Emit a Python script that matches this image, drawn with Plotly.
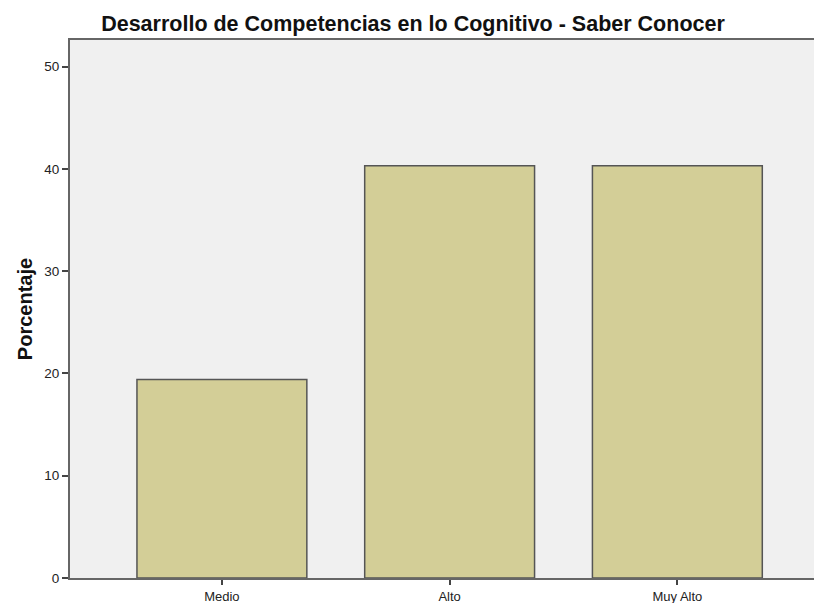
import plotly.graph_objects as go

categories = ["Medio", "Alto", "Muy Alto"]
porcentaje = [19.4, 40.3, 40.3]
y_ticks = [0, 10, 20, 30, 40, 50]

fig = go.Figure()
fig.add_trace(go.Bar(
    x=list(range(len(categories))),
    y=porcentaje,
    width=0.746,
    marker=dict(color="#D3CE97", line=dict(color="#555555", width=1.5)),
    hoverinfo="skip",
))

fig.update_layout(
    width=814, height=603,
    margin=dict(l=70, r=0, t=40, b=25),
    paper_bgcolor="white",
    plot_bgcolor="#F0F0F0",
    showlegend=False,
    font=dict(family="Liberation Sans, Arial, sans-serif", color="#222222"),
    title=dict(
        text="<b>Desarrollo de Competencias en lo Cognitivo - Saber Conocer</b>",
        x=413 / 814, xanchor="center", y=1 - 23 / 603, yanchor="middle",
        font=dict(size=21.5, color="#111111"),
    ),
    xaxis=dict(
        range=[-0.667, 2.6],
        tickvals=list(range(len(categories))),
        ticktext=categories,
        ticks="outside", ticklen=5, tickwidth=1.5, tickcolor="#444444",
        showline=True, linecolor="#666666", linewidth=2, mirror=True,
        showgrid=False, zeroline=False, automargin=False,
        tickfont=dict(size=13, color="#222222"),
    ),
    yaxis=dict(
        range=[0, 52.6],
        tickvals=y_ticks,
        ticks="outside", ticklen=6, tickwidth=1.5, tickcolor="#444444",
        showline=True, linecolor="#666666", linewidth=2,
        showgrid=False, zeroline=False,
        tickfont=dict(size=13.5, color="#222222"),
        title=dict(text="<b>Porcentaje</b>", font=dict(size=20, color="#111111"), standoff=6),
    ),
)

fig.write_html("out.html")
